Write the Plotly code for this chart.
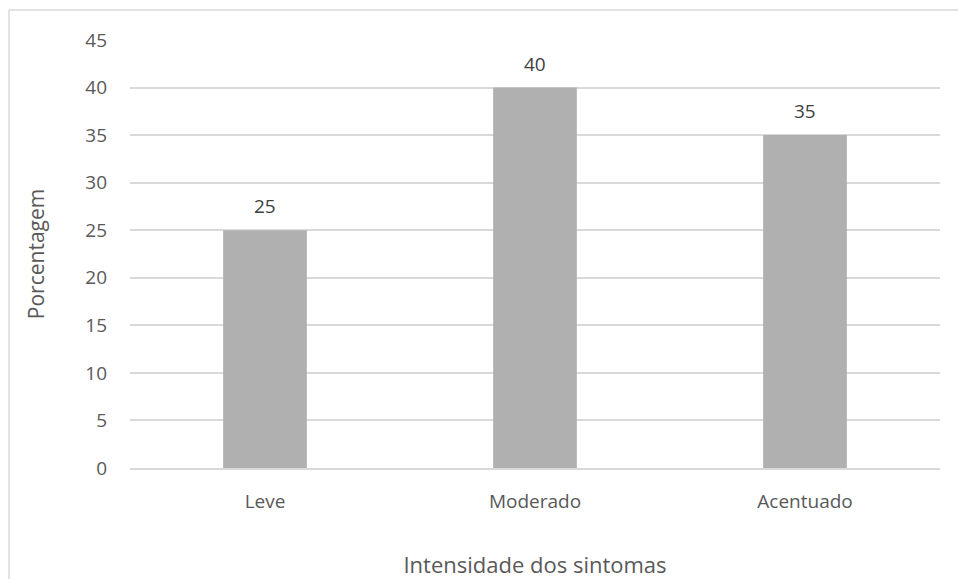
import plotly.graph_objects as go

categories = ["Leve", "Moderado", "Acentuado"]
values = [25, 40, 35]
y_ticks = [0, 5, 10, 15, 20, 25, 30, 35, 40, 45]

W, H = 958, 579
L, R, T, B = 130, 18, 40, 111
pw, ph = W - L - R, H - T - B

font = "Open Sans, Liberation Sans, sans-serif"

fig = go.Figure()
fig.add_trace(go.Bar(
    x=categories, y=values,
    marker=dict(color="#b0b0b0", line=dict(width=0)),
    hoverinfo="x+y",
))

for c, v in zip(categories, values):
    fig.add_annotation(x=c, y=v, text=str(v), showarrow=False,
                       yanchor="bottom", yshift=9,
                       font=dict(family=font, size=19, color="#404040"))

fig.update_layout(
    width=W, height=H,
    margin=dict(l=L, r=R, t=T, b=B, autoexpand=False),
    paper_bgcolor="white", plot_bgcolor="white",
    bargap=0.69,
    showlegend=False,
    font=dict(family=font, color="#595959"),
    xaxis=dict(
        automargin=False,
        showgrid=False, showline=True, linecolor="#d9d9d9", linewidth=1.5,
        ticks="", tickfont=dict(size=19, color="#595959"),
        ticklabelstandoff=15,
        title=dict(text="Intensidade dos sintomas", font=dict(size=22, color="#595959"), standoff=46),
    ),
    yaxis=dict(
        automargin=False,
        range=[0, 45], tickvals=y_ticks, showgrid=True, gridcolor="#d9d9d9", gridwidth=1.5,
        zeroline=False, showline=False, ticks="",
        tickfont=dict(size=19, color="#595959"), ticklabelstandoff=22,
        title=dict(text="Porcentagem", font=dict(size=21, color="#595959"), standoff=34),
    ),
    shapes=[
        dict(type="line", xref="paper", yref="paper",
             x0=(9 - L) / pw, x1=(W + 5 - L) / pw, y0=(H - 10 - B) / ph, y1=(H - 10 - B) / ph,
             line=dict(color="#d9d9d9", width=1.5)),
        dict(type="line", xref="paper", yref="paper",
             x0=(9 - L) / pw, x1=(9 - L) / pw, y0=(H - 10 - B) / ph, y1=(-5 - B) / ph,
             line=dict(color="#d9d9d9", width=1.5)),
    ],
)

fig.write_html("out.html")
